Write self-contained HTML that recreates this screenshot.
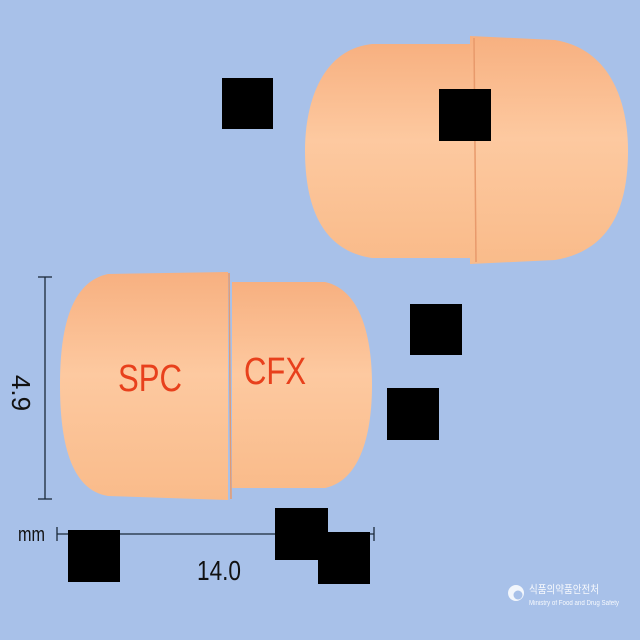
<!DOCTYPE html>
<html><head><meta charset="utf-8"><style>
html,body{margin:0;padding:0;background:#a8c1e9;}
svg{display:block;}
</style></head><body>
<svg width="640" height="640" viewBox="0 0 640 640" xmlns="http://www.w3.org/2000/svg">
<defs>
<linearGradient id="gv" x1="0" y1="0" x2="0" y2="1">
<stop offset="0" stop-color="#f7b080"/><stop offset="0.45" stop-color="#fdc9a0"/><stop offset="1" stop-color="#f9bb8a"/>
</linearGradient>
</defs>
<rect width="640" height="640" fill="#a8c1e9"/>
<g>
<path d="M478,44 L372,44 C318,50 305,110 305,150 C305,200 318,250 372,258 L478,258 Z" fill="url(#gv)"/>
<path d="M470,36 L555,40 C615,50 628,110 628,150 C628,200 615,250 555,260 L470,264 Z" fill="url(#gv)"/>
<line x1="474" y1="38" x2="476" y2="262" stroke="#e89a6c" stroke-width="1.5"/>
</g>
<g>
<path d="M232,282 L325,282 C362,290 372,340 372,385 C372,430 362,480 325,488 L232,488 Z" fill="url(#gv)"/>
<path d="M228,272 L108,274 C70,282 60,330 60,385 C60,440 70,490 108,496 L228,500 Z" fill="url(#gv)"/>
<line x1="229" y1="273" x2="231" y2="499" stroke="#e89a6c" stroke-width="1.5"/>
<text x="118" y="391" font-family="Liberation Sans, sans-serif" font-size="38" fill="#e8401c" textLength="64" lengthAdjust="spacingAndGlyphs">SPC</text>
<text x="244" y="384" font-family="Liberation Sans, sans-serif" font-size="38" fill="#e8401c" textLength="62" lengthAdjust="spacingAndGlyphs">CFX</text>
</g>
<g stroke="#1a2a3a" stroke-width="1.3">
<line x1="45" y1="277" x2="45" y2="499"/>
<line x1="38" y1="277" x2="52" y2="277"/>
<line x1="38" y1="499" x2="52" y2="499"/>
<line x1="57" y1="534" x2="374" y2="534"/>
<line x1="57" y1="527" x2="57" y2="541"/>
<line x1="374" y1="527" x2="374" y2="541"/>
</g>
<text transform="translate(12,393) rotate(90)" font-family="Liberation Sans, sans-serif" font-size="26" fill="#111" text-anchor="middle">4.9</text>
<text x="18" y="541" font-family="Liberation Sans, sans-serif" font-size="20" fill="#111" textLength="27" lengthAdjust="spacingAndGlyphs">mm</text>
<text x="197" y="580" font-family="Liberation Sans, sans-serif" font-size="28" fill="#111" textLength="44" lengthAdjust="spacingAndGlyphs">14.0</text>
<g fill="#000">
<rect x="222" y="78" width="51" height="51"/>
<rect x="439" y="89" width="52" height="52"/>
<rect x="410" y="304" width="52" height="51"/>
<rect x="387" y="388" width="52" height="52"/>
<rect x="68" y="530" width="52" height="52"/>
<rect x="275" y="508" width="53" height="52"/>
<rect x="318" y="532" width="52" height="52"/>
</g>
<g>
<circle cx="516" cy="593" r="8" fill="#fff" opacity="0.85"/>
<circle cx="518" cy="595" r="4.5" fill="#a8c1e9"/>
<text x="529" y="593" font-family="Liberation Sans, 'Noto Sans CJK KR', sans-serif" font-size="11" fill="#fff" opacity="0.9" textLength="70" lengthAdjust="spacingAndGlyphs">식품의약품안전처</text>
<text x="529" y="605" font-family="Liberation Sans, sans-serif" font-size="7" fill="#fff" opacity="0.9" textLength="90" lengthAdjust="spacingAndGlyphs">Ministry of Food and Drug Safety</text>
</g>
</svg>
</body></html>
